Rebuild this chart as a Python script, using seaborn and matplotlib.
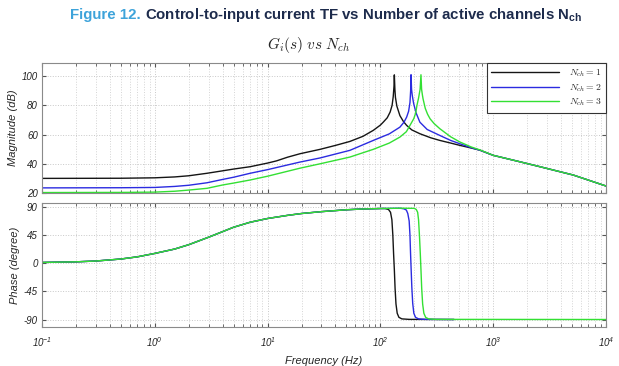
import matplotlib
matplotlib.use('Agg')
import matplotlib.pyplot as plt
from matplotlib.font_manager import FontProperties
from matplotlib.ticker import LogLocator, NullFormatter
import pandas as pd
import seaborn as sns

sns.set_style('ticks')
plt.rcParams['font.family'] = ['Liberation Sans', 'DejaVu Sans']
plt.rcParams['font.style'] = 'italic'
plt.rcParams['axes.unicode_minus'] = False

# magnitude (dB)
f_mag_1 = [0.1, 0.5, 1.0, 1.5, 2.0, 2.9, 4.0, 5.0, 7.0, 10, 12, 15, 19.4, 29.2, 40, 53.6,
           70, 86.5, 100, 106, 115, 122, 127, 130, 132, 133,
           134.5, 136, 140, 149, 160, 171, 190, 224, 280, 337, 420, 508, 640, 764,
           1000, 1600, 2600, 5130, 10000]
mag_1 = [30.0, 30.1, 30.4, 31.0, 31.8, 33.5, 35.2, 36.4, 38.0, 40.5, 42.0, 44.5, 46.9, 49.9, 52.6, 55.3,
         58.8, 62.9, 66.5, 68.5, 71.5, 75.4, 80, 86, 93, 100.9,
         91, 85.5, 79.5, 73, 69, 66.3, 63.2, 60.6, 57.8, 56, 54.2, 52.6, 50.8, 49.3,
         45.8, 42, 38, 32.3, 24.8]

f_mag_2 = [0.1, 0.5, 1.0, 1.5, 2.0, 2.9, 4.0, 5.0, 7.0, 10, 19.4, 29.2, 53.6, 86.5, 120,
           149, 162, 171, 178, 183, 185.5, 187,
           189, 192, 197, 207, 224, 260, 337, 420, 508, 640, 764,
           1000, 1600, 2600, 5130, 10000]
mag_2 = [23.5, 23.6, 23.8, 24.5, 25.3, 27, 29.3, 30.8, 33.5, 36, 41.2, 44, 49.2, 56, 60.5,
         65.1, 68.5, 72, 76, 82, 90, 101,
         91, 86.5, 81.5, 75, 68.5, 63.5, 59.4, 56, 53.7, 51, 49.3,
         45.8, 42, 38, 32.3, 24.8]

f_mag_3 = [0.1, 0.5, 1.0, 1.5, 2.0, 2.9, 4.0, 5.0, 7.0, 10, 19.4, 29.2, 53.6, 86.5, 120,
           149, 170, 183, 198, 206, 211, 218, 225, 229,
           232, 236, 239, 250, 262, 276, 300, 337, 420, 508, 640, 764,
           1000, 1600, 2600, 5130, 10000]
mag_3 = [20.3, 20.4, 20.6, 21.2, 22, 23.2, 25.5, 26.8, 28.9, 31.5, 37, 40, 44.6, 49.9, 54.2,
         58.3, 62, 66.3, 71, 75, 80, 85, 91, 101,
         91, 87, 84.5, 78, 74, 70.8, 67.5, 64, 58.5, 54.9, 51.5, 49.5,
         45.8, 42, 38, 32.3, 24.8]

# phase (degree)
f_low = [0.1, 0.2, 0.3, 0.5, 0.7, 1, 1.5, 2, 3, 4, 5, 7, 10, 15, 20, 30, 50, 70, 100]
ph_low = [1.5, 2.5, 3.8, 7, 10.5, 16, 23, 30, 42, 51, 58, 66, 72, 77, 80, 83, 86, 87.3, 88]

f_ph_1 = f_low + [110, 118, 123, 126.5, 129, 131, 133, 135, 137.5, 141, 146, 155, 180, 450]
ph_1 = ph_low + [88, 86.5, 82, 70, 45, 15, -10, -40, -65, -80, -86.5, -89, -89.8, -90]

f_ph_2 = f_low + [150, 162, 170, 175, 180, 183, 185, 187, 190, 193.5, 198, 205, 218, 250, 450]
ph_2 = ph_low + [88.5, 87.5, 85.5, 80, 68, 45, 18, -5, -38, -64, -80, -86.5, -89, -89.8, -90]

f_ph_3 = f_low + [150, 200, 208, 214, 218, 222, 226, 229, 232.5, 237, 243, 252, 267, 310, 10000]
ph_3 = ph_low + [88.5, 88.3, 86.5, 82, 70, 45, 15, -10, -40, -65, -80, -86.5, -89, -89.8, -90]

labels = [r'$N_{ch} = 1$', r'$N_{ch} = 2$', r'$N_{ch} = 3$']
colors = ['#151515', '#2b2be0', '#33e033']

mag_df = pd.concat([
    pd.DataFrame({'freq': f, 'val': v, 'series': lab})
    for f, v, lab in zip([f_mag_1, f_mag_2, f_mag_3], [mag_1, mag_2, mag_3], labels)
])
ph_df = pd.concat([
    pd.DataFrame({'freq': f, 'val': v, 'series': lab})
    for f, v, lab in zip([f_ph_1, f_ph_2, f_ph_3], [ph_1, ph_2, ph_3], labels)
])

fig = plt.figure(figsize=(6.19, 3.66), dpi=100)
ax1 = fig.add_axes([0.0679, 0.4727, 0.911, 0.355])
ax2 = fig.add_axes([0.0679, 0.1066, 0.911, 0.339])

for ax in (ax1, ax2):
    ax.set_xscale('log')

sns.lineplot(data=mag_df, x='freq', y='val', hue='series', palette=colors,
             estimator=None, linewidth=1, ax=ax1)
sns.lineplot(data=ph_df, x='freq', y='val', hue='series', palette=colors,
             estimator=None, linewidth=1, ax=ax2, legend=False)

ax1.set_ylim(20, 109)
ax1.set_yticks([20, 40, 60, 80, 100])
ax2.set_ylim(-102, 97)
ax2.set_yticks([-90, -45, 0, 45, 90])

for ax in (ax1, ax2):
    ax.set_xlim(0.1, 10000)
    ax.xaxis.set_major_locator(LogLocator(base=10, numticks=10))
    ax.xaxis.set_minor_locator(LogLocator(base=10, subs=range(2, 10), numticks=20))
    ax.xaxis.set_minor_formatter(NullFormatter())
    ax.grid(True, which='major', axis='both', color='#c8c8c8', linestyle=':', linewidth=0.7)
    ax.grid(True, which='minor', axis='x', color='#d4d4d4', linestyle=':', linewidth=0.7)
    ax.tick_params(which='both', direction='in', top=True, right=True, color='#555555',
                   labelsize=7, labelcolor='#222222', pad=3)
    ax.tick_params(which='major', length=3)
    ax.tick_params(which='minor', length=2)
    for s in ax.spines.values():
        s.set_color('#8a8a8a')
        s.set_linewidth(0.8)
    ax.set_xlabel('')

ax1.tick_params(labelbottom=False)
ax2.tick_params(axis='x', pad=6)
ax1.set_ylabel('Magnitude (dB)', fontsize=8, labelpad=3)
ax2.set_ylabel('Phase (degree)', fontsize=8, labelpad=3)
ax2.set_xlabel('Frequency (Hz)', fontsize=8, labelpad=5)

h, l = ax1.get_legend_handles_labels()
leg = ax1.legend(h, l, loc='upper right', borderaxespad=0, fancybox=False,
                 edgecolor='#333333', framealpha=1, handlelength=7, labelspacing=0.3,
                 borderpad=0.45, handletextpad=1.0,
                 prop=FontProperties(size=7, math_fontfamily='cm'))
leg.get_frame().set_linewidth(0.8)

fig.text(0.498, 0.877, r'$G_i(s)$ $vs$ $N_{ch}$', ha='center', va='center',
         fontsize=11, math_fontfamily='cm')

# two-colour heading
t1 = fig.text(70 / 619, 0.959, 'Figure 12. ', color='#3da3da', fontsize=10.8,
              fontweight='bold', fontstyle='normal', ha='left', va='center')
fig.canvas.draw()
bb = t1.get_window_extent()
fig.text(bb.x1 / fig.bbox.width, 0.959,
         r'Control-to-input current TF vs Number of active channels N$_\mathdefault{ch}$',
         color='#1d2b4c', fontsize=10.8, fontweight='bold', fontstyle='normal',
         ha='left', va='center')

fig.savefig('out.png', dpi=100)
